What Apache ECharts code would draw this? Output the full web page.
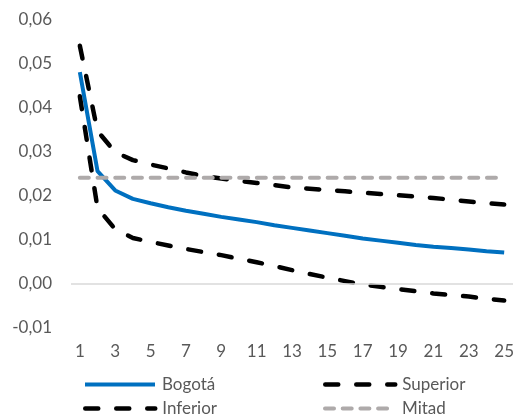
<!DOCTYPE html>
<html>
<head>
<meta charset="utf-8">
<script src="https://cdn.jsdelivr.net/npm/echarts@6/dist/echarts.min.js"></script>
<style>
  html, body { margin: 0; padding: 0; background: #fff; }
  #main { width: 517px; height: 416px; }
</style>
</head>
<body>
<div id="main"></div>
<script>
// datos
var periodos = ["1","2","3","4","5","6","7","8","9","10","11","12","13","14","15","16","17","18","19","20","21","22","23","24","25"];
var bogota = [0.048, 0.0255, 0.0211, 0.0192, 0.0182, 0.0173, 0.0165, 0.0158, 0.0151, 0.0145, 0.0139, 0.0132, 0.0126, 0.0120, 0.0114, 0.0108, 0.0102, 0.0097, 0.0092, 0.0087, 0.0083, 0.0080, 0.0077, 0.0073, 0.0070];
var superior = [0.054, 0.0346, 0.0298, 0.0280, 0.0270, 0.0261, 0.0252, 0.0244, 0.0238, 0.0233, 0.0228, 0.0223, 0.0218, 0.0215, 0.0212, 0.0209, 0.0206, 0.0203, 0.0200, 0.0197, 0.0194, 0.0190, 0.0186, 0.0182, 0.0179];
var inferior = [0.0425, 0.0171, 0.0123, 0.0103, 0.0094, 0.0086, 0.0078, 0.0071, 0.0064, 0.0056, 0.0048, 0.0039, 0.0030, 0.0021, 0.0013, 0.0005, -0.0003, -0.0008, -0.0013, -0.0018, -0.0023, -0.0027, -0.0030, -0.0035, -0.0039];
var mitad = [0.024, 0.024, 0.024, 0.024, 0.024, 0.024, 0.024, 0.024, 0.024, 0.024, 0.024, 0.024, 0.024, 0.024, 0.024, 0.024, 0.024, 0.024, 0.024, 0.024, 0.024, 0.024, 0.024, 0.024, 0.024];

var fuente = "Lato";
var gris = "#595959";

var chart = echarts.init(document.getElementById("main"));

function leyenda(nombre, left, top) {
  return {
    data: [nombre],
    left: left,
    top: top,
    padding: 0,
    itemWidth: 70,
    itemHeight: 14,
    itemGap: 0,
    selectedMode: false,
    itemStyle: { opacity: 0 },
    lineStyle: { width: "inherit" },
    textStyle: { color: gris, fontSize: 17, fontFamily: fuente, padding: [0, 0, 0, 2] }
  };
}

var option = {
  animation: false,
  backgroundColor: "#fff",
  grid: { left: 71, right: 2, top: 19.3, bottom: 88.7, containLabel: false },
  legend: [
    leyenda("Bogotá", 83, 376),
    leyenda("Superior", 323, 376),
    leyenda("Inferior", 83, 400),
    leyenda("Mitad", 323, 400)
  ],
  xAxis: {
    type: "category",
    data: periodos,
    boundaryGap: true,
    axisLine: { show: false },
    axisTick: { show: false },
    splitLine: { show: false },
    axisLabel: {
      interval: 1,
      margin: 16,
      color: gris,
      fontSize: 17,
      fontFamily: fuente
    }
  },
  yAxis: {
    type: "value",
    min: -0.01,
    max: 0.06,
    interval: 0.01,
    axisLine: { show: false },
    axisTick: { show: false },
    splitLine: { show: false },
    axisLabel: {
      margin: 19,
      color: gris,
      fontSize: 17,
      fontFamily: fuente,
      formatter: function (v) { return v.toFixed(2).replace(".", ","); }
    }
  },
  series: [
    {
      name: "cero",
      type: "line",
      data: [],
      z: 1,
      silent: true,
      markLine: {
        silent: true,
        symbol: "none",
        label: { show: false },
        lineStyle: { color: "#d9d9d9", width: 1.5, type: "solid" },
        data: [{ yAxis: 0 }]
      }
    },
    {
      name: "Bogotá",
      type: "line",
      data: bogota,
      symbol: "none",
      z: 3,
      lineStyle: { color: "#0070C0", width: 4 },
      itemStyle: { color: "#0070C0" }
    },
    {
      name: "Superior",
      type: "line",
      data: superior,
      symbol: "none",
      z: 3,
      lineStyle: { color: "#000", width: 4.5, type: [13, 18], cap: "round" },
      itemStyle: { color: "#000" }
    },
    {
      name: "Inferior",
      type: "line",
      data: inferior,
      symbol: "none",
      z: 3,
      lineStyle: { color: "#000", width: 4.5, type: [13, 18], cap: "round" },
      itemStyle: { color: "#000" }
    },
    {
      name: "Mitad",
      type: "line",
      data: mitad,
      symbol: "none",
      z: 4,
      lineStyle: { color: "#AEAAAA", width: 4, type: [9, 8.7], cap: "round" },
      itemStyle: { color: "#AEAAAA" }
    }
  ]
};

chart.setOption(option);
</script>
</body>
</html>
